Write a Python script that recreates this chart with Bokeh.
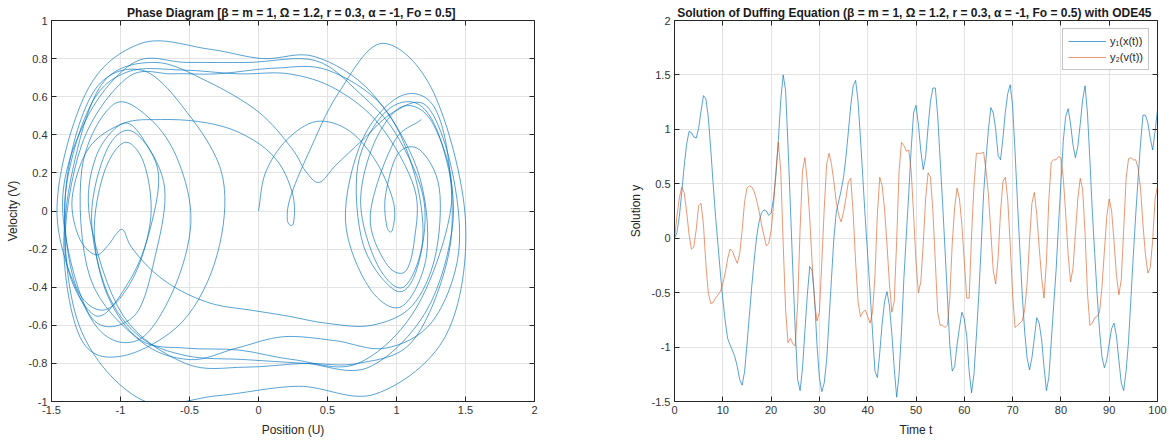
import numpy as np
from bokeh.plotting import figure
from bokeh.layouts import row
from bokeh.models import FixedTicker, LinearAxis, Legend, LegendItem, Range1d, ColumnDataSource
from bokeh.embed import file_html
from bokeh.resources import INLINE

# Sample times of the solver output (every 0.5 time units)
t = np.arange(0, 100.5, 0.5)

# y1: position x(t)
x_pos = [
    0.00, 0.05, 0.20, 0.42, 0.66, 0.86, 0.98, 0.97, 0.93, 0.92,
    1.01, 1.17, 1.31, 1.28, 1.11, 0.82, 0.50, 0.20, -0.06, -0.32,
    -0.56, -0.76, -0.92, -0.98, -1.03, -1.09, -1.18, -1.30, -1.35, -1.23,
    -0.98, -0.71, -0.44, -0.20, 0.01, 0.15, 0.23, 0.26, 0.25, 0.21,
    0.23, 0.36, 0.58, 0.90, 1.27, 1.50, 1.36, 0.85, 0.29, -0.30,
    -0.85, -1.30, -1.40, -1.20, -0.85, -0.52, -0.26, -0.30, -0.55, -0.98,
    -1.28, -1.41, -1.33, -1.12, -0.75, -0.37, 0.00, 0.24, 0.34, 0.44,
    0.56, 0.75, 0.98, 1.22, 1.40, 1.45, 1.26, 0.92, 0.55, 0.18,
    -0.16, -0.50, -0.86, -1.22, -1.28, -1.05, -0.78, -0.58, -0.49, -0.62,
    -0.88, -1.20, -1.46, -1.25, -0.85, -0.36, 0.03, 0.41, 0.82, 1.15,
    1.22, 1.04, 0.80, 0.63, 0.75, 1.02, 1.26, 1.38, 1.38, 1.12,
    0.72, 0.33, -0.10, -0.53, -0.98, -1.22, -1.18, -0.98, -0.82, -0.68,
    -0.74, -0.90, -1.22, -1.42, -1.25, -0.90, -0.52, -0.07, 0.41, 0.73,
    1.00, 1.20, 1.15, 1.00, 0.76, 0.72, 0.92, 1.16, 1.33, 1.41,
    1.22, 0.80, 0.34, -0.10, -0.52, -0.86, -1.10, -1.21, -1.10, -0.92,
    -0.73, -0.78, -0.93, -1.18, -1.40, -1.28, -0.95, -0.62, -0.30, 0.12,
    0.50, 0.90, 1.12, 1.19, 1.05, 0.86, 0.74, 0.84, 1.05, 1.27,
    1.40, 1.15, 0.72, 0.25, -0.14, -0.52, -0.85, -1.09, -1.19, -1.12,
    -0.97, -0.83, -0.78, -0.90, -1.12, -1.33, -1.40, -1.22, -0.95, -0.55,
    -0.15, 0.22, 0.56, 0.88, 1.13, 1.13, 1.06, 0.92, 0.81, 0.98,
    1.18,
]

# y2: velocity v(t)
v_vel = [
    0.00, 0.20, 0.37, 0.47, 0.42, 0.25, 0.04, -0.10, -0.08, 0.08,
    0.30, 0.32, 0.12, -0.24, -0.50, -0.60, -0.59, -0.55, -0.52, -0.49,
    -0.42, -0.32, -0.19, -0.10, -0.12, -0.18, -0.23, -0.14, 0.07, 0.33,
    0.46, 0.48, 0.47, 0.43, 0.35, 0.25, 0.13, 0.03, -0.07, -0.05,
    0.07, 0.30, 0.62, 0.88, 0.62, -0.05, -0.65, -0.96, -0.92, -0.97,
    -0.99, -0.60, 0.08, 0.62, 0.74, 0.52, 0.18, -0.23, -0.58, -0.76,
    -0.68, -0.22, 0.27, 0.68, 0.78, 0.68, 0.52, 0.33, 0.21, 0.15,
    0.24, 0.37, 0.52, 0.55, 0.22, -0.22, -0.58, -0.72, -0.68, -0.66,
    -0.72, -0.78, -0.68, -0.35, 0.22, 0.56, 0.48, 0.26, -0.06, -0.42,
    -0.68, -0.58, -0.02, 0.62, 0.88, 0.85, 0.80, 0.81, 0.62, 0.22,
    -0.22, -0.50, -0.40, -0.05, 0.37, 0.60, 0.56, 0.25, -0.22, -0.68,
    -0.80, -0.80, -0.82, -0.80, -0.55, -0.05, 0.28, 0.46, 0.36, 0.12,
    -0.21, -0.55, -0.55, 0.02, 0.48, 0.78, 0.78, 0.78, 0.79, 0.62,
    0.40, 0.05, -0.30, -0.42, -0.18, 0.24, 0.52, 0.56, 0.35, -0.05,
    -0.52, -0.82, -0.80, -0.78, -0.76, -0.66, -0.42, -0.03, 0.32, 0.42,
    0.22, -0.08, -0.36, -0.55, -0.22, 0.35, 0.70, 0.72, 0.72, 0.75,
    0.74, 0.55, 0.22, -0.15, -0.40, -0.28, 0.04, 0.36, 0.55, 0.45,
    0.05, -0.50, -0.80, -0.78, -0.73, -0.72, -0.68, -0.45, -0.12, 0.20,
    0.36, 0.25, -0.03, -0.34, -0.52, -0.38, 0.08, 0.55, 0.73, 0.74,
    0.72, 0.72, 0.64, 0.45, 0.12, -0.15, -0.32, -0.27, -0.02, 0.36,
    0.48,
]

# Axis ticks
phase_xticks = [-1.5, -1, -0.5, 0, 0.5, 1, 1.5, 2]
phase_yticks = [-1, -0.8, -0.6, -0.4, -0.2, 0, 0.2, 0.4, 0.6, 0.8, 1]
time_xticks = [0, 10, 20, 30, 40, 50, 60, 70, 80, 90, 100]
time_yticks = [-1.5, -1, -0.5, 0, 0.5, 1, 1.5, 2]

BLUE = "#0072BD"
RED = "#D95319"
AXIS = "#262626"
FONT = "Liberation Sans"


def fmt(v):
    return "%g" % v


def matlab_axes(p, xticks, yticks, xlabel, ylabel):
    p.outline_line_color = AXIS
    p.outline_line_width = 1
    p.background_fill_color = "white"
    p.border_fill_color = "white"
    for ax, ticks in ((p.xaxis[0], xticks), (p.yaxis[0], yticks)):
        ax.ticker = FixedTicker(ticks=ticks)
        ax.major_label_overrides = {v: fmt(v) for v in ticks}
        ax.major_tick_in = 5
        ax.major_tick_out = 0
        ax.minor_tick_line_color = None
        ax.axis_line_color = AXIS
        ax.major_tick_line_color = AXIS
        ax.major_label_text_font = FONT
        ax.major_label_text_font_size = "11px"
        ax.major_label_text_color = "#333333"
        ax.axis_label_text_font = FONT
        ax.axis_label_text_font_size = "12px"
        ax.axis_label_text_font_style = "normal"
        ax.axis_label_text_color = "#262626"
        ax.major_label_standoff = 4
        ax.axis_label_standoff = 6
    p.xaxis[0].axis_label = xlabel
    p.yaxis[0].axis_label = ylabel
    # mirrored ticks on the top and right edges of the box
    top = LinearAxis(ticker=FixedTicker(ticks=xticks), major_label_text_font_size="0px",
                     major_tick_in=5, major_tick_out=0, minor_tick_line_color=None,
                     axis_line_color=None, major_tick_line_color=AXIS,
                     major_label_standoff=0)
    right = LinearAxis(ticker=FixedTicker(ticks=yticks), major_label_text_font_size="0px",
                       major_tick_in=5, major_tick_out=0, minor_tick_line_color=None,
                       axis_line_color=None, major_tick_line_color=AXIS,
                       major_label_standoff=0)
    p.add_layout(top, "above")
    p.add_layout(right, "right")
    p.xgrid.ticker = FixedTicker(ticks=xticks)
    p.ygrid.ticker = FixedTicker(ticks=yticks)
    p.xgrid.grid_line_color = "#e3e3e3"
    p.ygrid.grid_line_color = "#e3e3e3"
    p.title.text_font = FONT
    p.title.text_font_size = "12px"
    p.title.text_font_style = "bold"
    p.title.text_color = "#1a1a1a"
    p.title.align = "center"
    p.title.standoff = 2


# Phase diagram: position vs velocity, drawn as a smooth (Catmull-Rom) curve
# through the sampled states
xs = np.array(x_pos)
vs = np.array(v_vel)
tan_x = np.gradient(xs)
tan_v = np.gradient(vs)
seg_src = ColumnDataSource(dict(
    x0=xs[:-1], y0=vs[:-1], x1=xs[1:], y1=vs[1:],
    cx0=xs[:-1] + tan_x[:-1] / 3, cy0=vs[:-1] + tan_v[:-1] / 3,
    cx1=xs[1:] - tan_x[1:] / 3, cy1=vs[1:] - tan_v[1:] / 3,
))

p1 = figure(width=600, height=440, output_backend="svg", toolbar_location=None,
            x_range=Range1d(-1.5, 2), y_range=Range1d(-1, 1),
            min_border_left=51, min_border_right=66, min_border_top=20,
            min_border_bottom=39,
            title="Phase Diagram [β = m = 1, Ω = 1.2, r =  0.3, α = -1, Fo = 0.5]")
p1.bezier(x0="x0", y0="y0", x1="x1", y1="y1", cx0="cx0", cy0="cy0",
          cx1="cx1", cy1="cy1", source=seg_src,
          line_color=BLUE, line_width=1, line_alpha=0.65)
matlab_axes(p1, phase_xticks, phase_yticks, "Position (U)", "Velocity (V)")

# Time history of both state variables
p2 = figure(width=569, height=440, output_backend="svg", toolbar_location=None,
            x_range=Range1d(0, 100), y_range=Range1d(-1.5, 2),
            min_border_left=74, min_border_right=12, min_border_top=20,
            min_border_bottom=39,
            title="Solution of Duffing Equation (β = m = 1, Ω = 1.2, r =  0.3, α = -1, Fo = 0.5) with ODE45")
r1 = p2.line(t, x_pos, line_color=BLUE, line_width=1, line_alpha=0.65)
r2 = p2.line(t, v_vel, line_color=RED, line_width=1, line_alpha=0.6)
matlab_axes(p2, time_xticks, time_yticks, "Time t", "Solution y")

legend = Legend(items=[LegendItem(label="y₁(x(t))", renderers=[r1]),
                       LegendItem(label="y₂(v(t))", renderers=[r2])],
                location="top_right")
legend.label_text_font = FONT
legend.label_text_font_size = "11px"
legend.label_text_color = "#262626"
legend.border_line_color = "#8c8c8c"
legend.border_line_width = 1
legend.glyph_width = 38
legend.glyph_height = 14
legend.label_height = 14
legend.spacing = 2
legend.padding = 5
legend.margin = 8
legend.label_standoff = 4
p2.add_layout(legend, "center")

layout = row(p1, p2)
open("out.html", "w").write(file_html(layout, INLINE))
